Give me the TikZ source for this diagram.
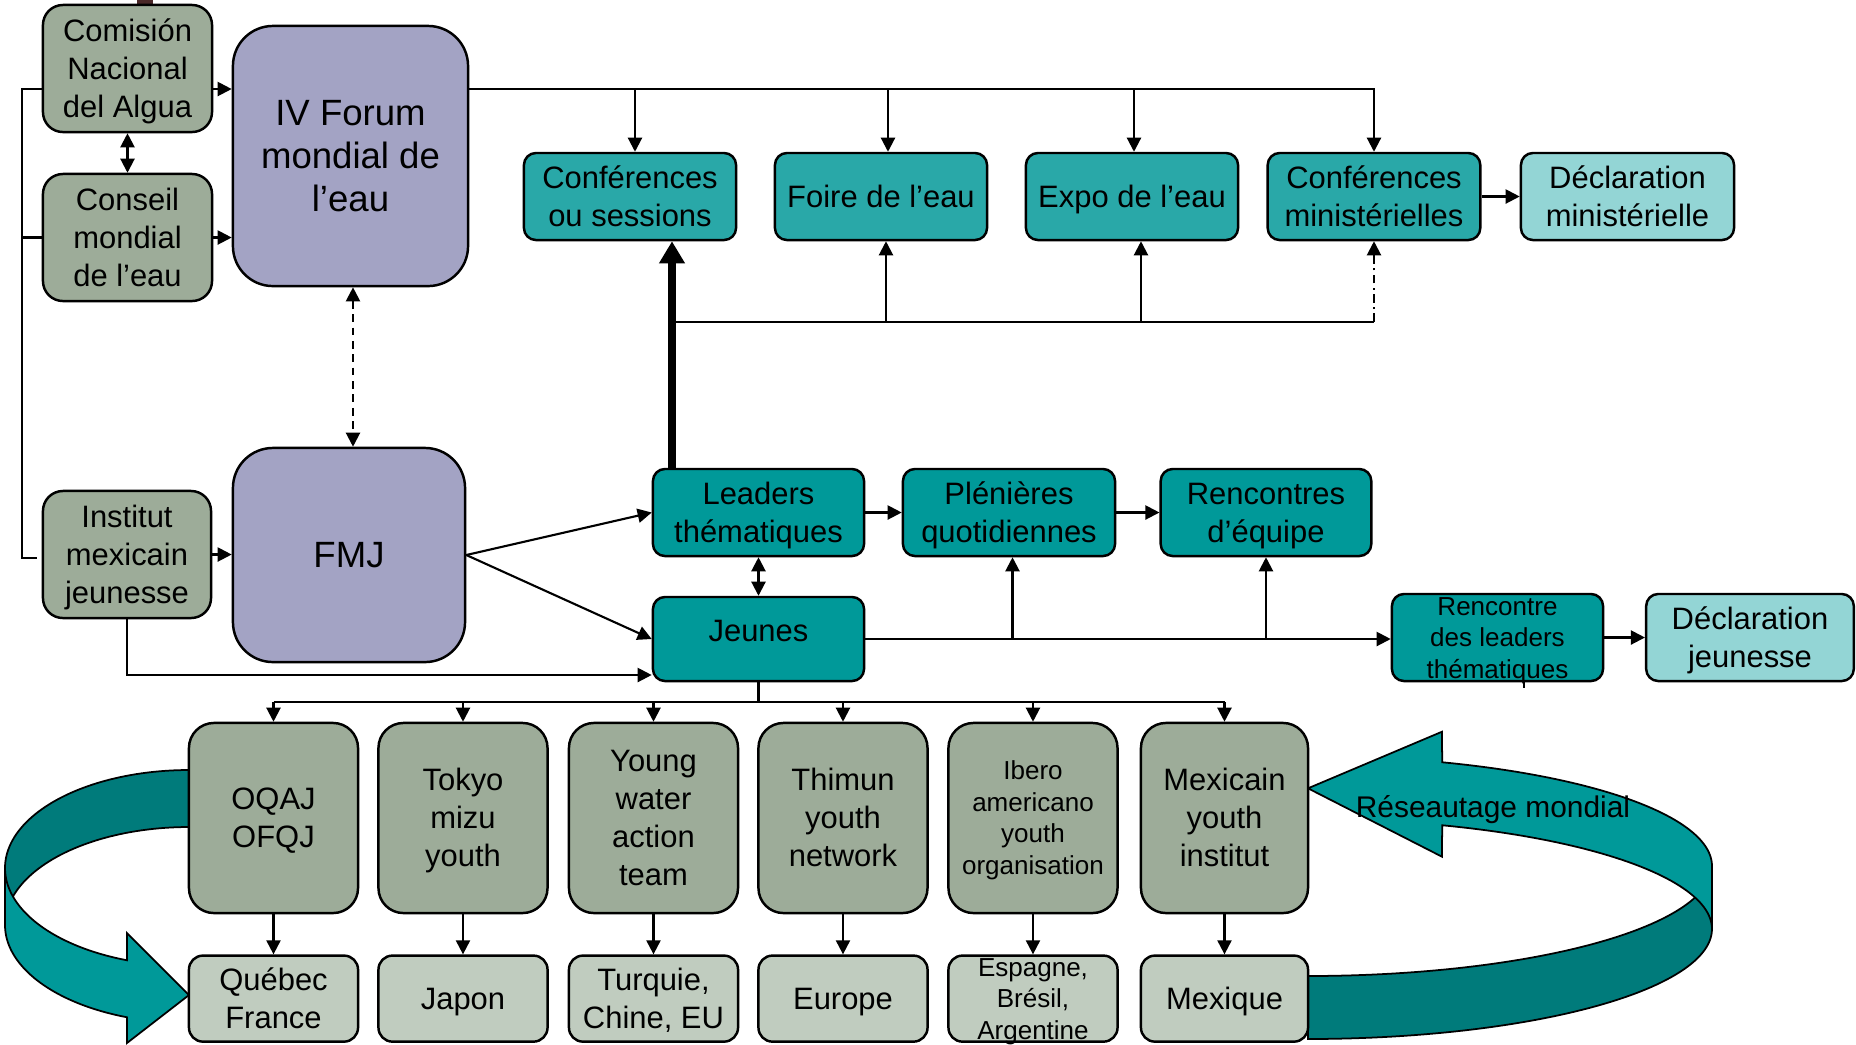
\documentclass[tikz,border=0pt]{standalone}
\usepackage{fontspec}
\setmainfont{Liberation Sans}
\usetikzlibrary{arrows.meta}
\newcommand\fsN{\fontsize{8.8pt}{10.8pt}\selectfont}
\newcommand\fsB{\fontsize{10.4pt}{12.3pt}\selectfont}
\newcommand\fsS{\fontsize{7.4pt}{8.95pt}\selectfont}
\newcommand\fsR{\fontsize{8.5pt}{10pt}\selectfont}
\newcommand\zst{\rule[-0.212em]{0pt}{1.117em}}
\definecolor{cSage}{RGB}{157,172,153}
\definecolor{cSageL}{RGB}{192,204,191}
\definecolor{cLav}{RGB}{163,163,196}
\definecolor{cTealA}{RGB}{41,168,168}
\definecolor{cTealB}{RGB}{0,153,153}
\definecolor{cCyan}{RGB}{147,213,213}
\definecolor{cArrD}{RGB}{0,123,123}
\definecolor{cArrL}{RGB}{0,153,153}
\definecolor{cBrown}{RGB}{74,40,40}
\begin{document}
\begin{tikzpicture}[x=0.01cm, y=-0.01cm, line width=0.6pt,
  base/.style={draw=black, line width=0.7pt, inner sep=0pt, align=center, text=black},
  sz/.style 2 args={minimum width=#1cm, minimum height=#2cm},
  sage/.style={base, fill=cSage, rounded corners=0.2cm, font=\fsN},
  sageT/.style={base, fill=cSage, rounded corners=0.25cm, font=\fsN},
  sagel/.style={base, fill=cSageL, rounded corners=0.14cm, font=\fsN},
  lav/.style={base, fill=cLav, rounded corners=0.4cm, font=\fsB},
  tla/.style={base, fill=cTealA, rounded corners=0.12cm, font=\fsN},
  tlb/.style={base, fill=cTealB, rounded corners=0.12cm, font=\fsN},
  cya/.style={base, fill=cCyan, rounded corners=0.12cm, font=\fsN},
  arr/.style={-{Triangle[width=4pt,length=4pt]}},
  darr/.style={{Triangle[width=4pt,length=4pt]}-{Triangle[width=4pt,length=4pt]}},
  bigarr/.style={line width=2pt, -{Triangle[width=7pt,length=6.3pt]}},
  ddash/.style={dash pattern=on 2.2pt off 1.6pt},
  dashdt/.style={dash pattern=on 2.5pt off 1.2pt on 0.6pt off 1.2pt},
  ribbon/.style={draw=black, line width=0.5pt},
]
\useasboundingbox (0,0) rectangle (1856,1044);
\fill[cBrown] (137,0) rectangle (153,4);

% left curved arrow
\filldraw[ribbon, fill=cArrD]
  plot[domain=270:180, samples=50, variable=\t] ({189+184*cos(\t)}, {868+98*sin(\t)})
  -- plot[domain=180:270, samples=50, variable=\t] ({189+184*cos(\t)}, {925+98*sin(\t)})
  -- cycle;
\filldraw[ribbon, fill=cArrL]
  plot[domain=180:109.7, samples=50, variable=\t] ({189+184*cos(\t)}, {868+98*sin(\t)})
  -- (127,933) -- (189,995) -- (127,1043) -- (127,1017.3)
  -- plot[domain=109.7:180, samples=50, variable=\t] ({189+184*cos(\t)}, {925+98*sin(\t)})
  -- cycle;

% right curved arrow
\filldraw[ribbon, fill=cArrD]
  plot[domain=90:0, samples=60, variable=\t] ({1308+404*cos(\t)}, {866+110*sin(\t)})
  -- plot[domain=0:90, samples=60, variable=\t] ({1308+404*cos(\t)}, {929+110*sin(\t)})
  -- cycle;
\filldraw[ribbon, fill=cArrL]
  plot[domain=-70.6:0, samples=50, variable=\t] ({1308+404*cos(\t)}, {866+110*sin(\t)})
  -- plot[domain=0:-70.6, samples=50, variable=\t] ({1308+404*cos(\t)}, {929+110*sin(\t)})
  -- (1442,856.7) -- (1308,788.3) -- (1442,731.7) -- cycle;

% nodes
\node[sage, sz={1.69}{1.27}] (com) at (127.5,68.5) {\zst Comisión\\\zst Nacional\\\zst del Algua};
\node[sage, sz={1.69}{1.27}] (cons) at (127.5,237.5) {\zst Conseil\\\zst mondial\\\zst de l’eau};
\node[sage, sz={1.68}{1.27}] (inst) at (127,554.5) {\zst Institut\\\zst mexicain\\\zst jeunesse};
\node[lav, sz={2.35}{2.60}] (forum) at (350.5,156) {\zst IV Forum\\\zst mondial de\\\zst l’eau};
\node[lav, sz={2.32}{2.14}] (fmj) at (349,555) {\zst FMJ};
\node[tla, sz={2.12}{0.87}] (conf) at (630,196.5) {\zst Conférences\\\zst ou sessions};
\node[tla, sz={2.12}{0.87}] (foire) at (881,196.5) {\zst Foire de l’eau};
\node[tla, sz={2.12}{0.87}] (expo) at (1132,196.5) {\zst Expo de l’eau};
\node[tla, sz={2.125}{0.87}] (cmin) at (1374,196.5) {\zst Conférences\\\zst ministérielles};
\node[cya, sz={2.13}{0.87}] (dmin) at (1627.5,196.5) {\zst Déclaration\\\zst ministérielle};
\node[tlb, sz={2.11}{0.87}] (lead) at (758.5,512.5) {\zst Leaders\\\zst thématiques};
\node[tlb, sz={2.12}{0.87}] (plen) at (1009,512.5) {\zst Plénières\\\zst quotidiennes};
\node[tlb, sz={2.105}{0.87}] (renc) at (1266,512.5) {\zst Rencontres\\\zst d’équipe};
\node[tlb, sz={2.11}{0.84}] (jeun) at (758.5,639) {\zst\smash{\raisebox{0.087cm}{Jeunes}}};
\node[tlb, sz={2.11}{0.87}, label={[font=\fsS, align=center, inner sep=0pt]center:{\zst Rencontre\\\zst des leaders\\\zst thématiques}}] (rencl) at (1497.5,637.5) {};
\node[cya, sz={2.075}{0.87}] (decj) at (1750,637.5) {\zst Déclaration\\\zst jeunesse};

\node[sageT, sz={1.69}{1.90}] (oq) at (273.5,818) {\zst OQAJ\\\zst OFQJ};
\node[sageT, sz={1.69}{1.90}] (tk) at (463,818) {\zst Tokyo\\\zst mizu\\\zst youth};
\node[sageT, sz={1.69}{1.90}] (yw) at (653.5,818) {\zst Young\\\zst water\\\zst action\\\zst team};
\node[sageT, sz={1.69}{1.90}] (th) at (843,818) {\zst Thimun\\\zst youth\\\zst network};
\node[sageT, sz={1.69}{1.90}, font=\fsS] (ib) at (1033,818) {\zst Ibero\\\zst americano\\\zst youth\\\zst organisation};
\node[sageT, sz={1.67}{1.90}] (mx) at (1224.5,818) {\zst Mexicain\\\zst youth\\\zst institut};

\node[sagel, sz={1.69}{0.86}] (qc) at (273.5,998.6) {\zst Québec\\\zst France};
\node[sagel, sz={1.69}{0.86}] (jp) at (463,998.6) {\zst Japon};
\node[sagel, sz={1.69}{0.86}] (tu) at (653.5,998.6) {\zst Turquie,\\\zst Chine, EU};
\node[sagel, sz={1.69}{0.86}] (eu) at (843,998.6) {\zst Europe};
\node[sagel, sz={1.69}{0.86}, label={[font=\fsS, align=center, inner sep=0pt]center:{\zst Espagne,\\\zst Brésil,\\\zst Argentine}}] (es) at (1033,998.6) {};
\node[sagel, sz={1.67}{0.86}] (me) at (1224.5,998.6) {\zst Mexique};

\node[font=\fsR, inner sep=0pt] (rm) at (1493,807) {\zst Réseautage mondial};

% connectors
\draw (com.west |- 0,89) -- (22,89) -- (22,558) -- (37,558);
\draw (cons.west) -- (22,237.5);
\draw[arr] (com.east |- 0,89) -- (forum.west |- 0,89);
\draw[arr] (cons.east) -- (forum.west |- cons.east);
\draw[darr] (com.south) -- (cons.north);
\draw[darr, ddash] (forum.south -| 353,0) -- (fmj.north -| 353,0);
\draw[arr] (inst.east) -- (fmj.west |- inst.east);
\draw[arr] (forum.east |- 0,89) -| (cmin.north);
\foreach \n/\xx in {conf/635, foire/888, expo/1134}
  \draw[arr] (\xx,89) -- (\n.north -| \xx,0);
\draw[arr] (cmin.east) -- (dmin.west);
\draw[bigarr] (lead.north -| 672,0) -- (conf.south -| 672,0);
\draw (672,322) -- (1374,322);
\draw[arr] (886,322) -- (foire.south -| 886,0);
\draw[arr] (1141,322) -- (expo.south -| 1141,0);
\draw[arr, dashdt] (1374,322) -- (cmin.south);
\draw[arr] (fmj.east) -- (lead.west);
\draw[arr] (fmj.east) -- (jeun.west);
\draw[arr] (inst.south) -- (127,675) -- (jeun.west |- 0,675);
\draw[darr] (lead.south) -- (jeun.north);
\draw[arr] (lead.east) -- (plen.west);
\draw[arr] (plen.east) -- (renc.west);
\draw[arr] (jeun.east) -- (rencl.west |- jeun.east);
\draw[arr] (1012.5,639) -- (plen.south -| 1012.5,0);
\draw[arr] (renc.south |- 0,639) -- (renc.south);
\draw[arr] (rencl.east) -- (decj.west);
\draw (rencl.south -| 1524,0) -- ++(0,6);
\draw (jeun.south) -- (jeun.south |- 0,702);
\draw (oq.north |- 0,702) -- (mx.north |- 0,702);
\foreach \n in {oq,tk,yw,th,ib,mx}
  \draw[arr] (\n.north |- 0,702) -- (\n.north);
\foreach \a/\b in {oq/qc,tk/jp,yw/tu,th/eu,ib/es,mx/me}
  \draw[arr] (\a.south) -- (\b.north);
\end{tikzpicture}
\end{document}
